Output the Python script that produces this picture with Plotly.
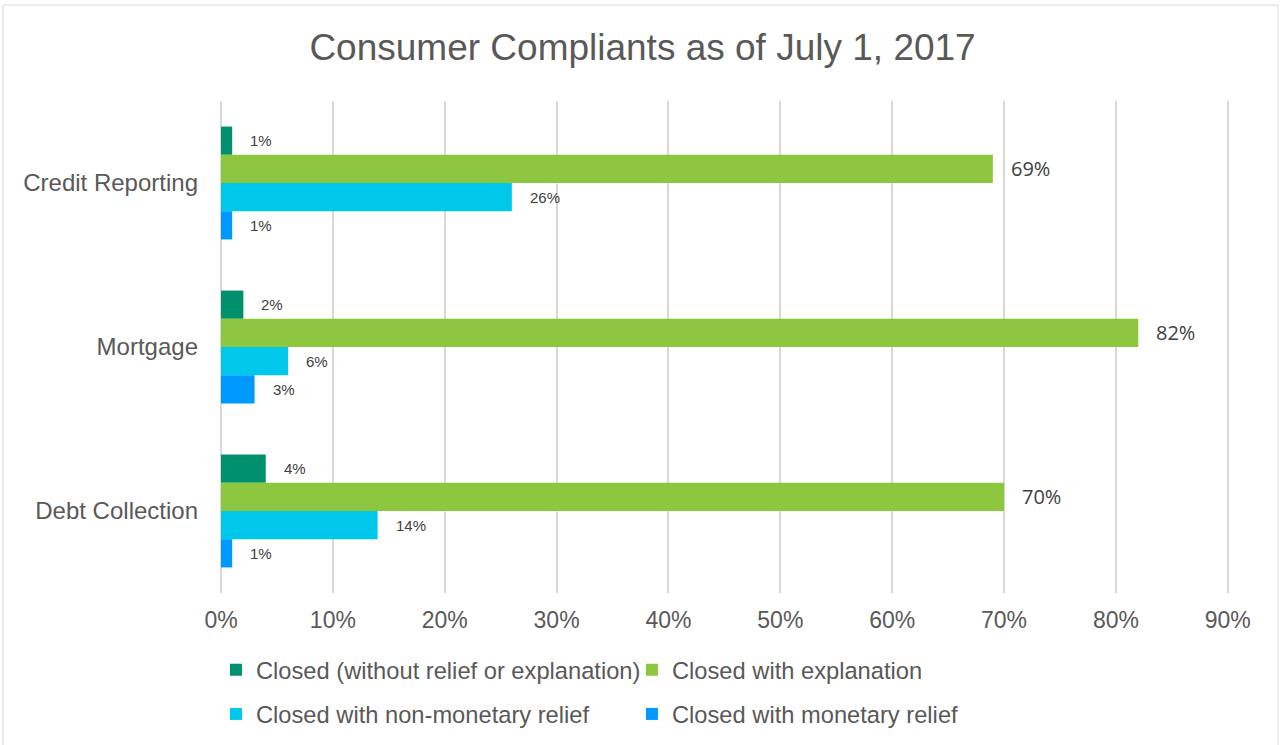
import plotly.graph_objects as go

categories = ["Credit Reporting", "Mortgage", "Debt Collection"]
series_names = [
    "Closed (without relief or explanation)",
    "Closed with explanation",
    "Closed with non-monetary relief",
    "Closed with monetary relief",
]
closed_without = [0.01, 0.02, 0.04]
closed_explanation = [0.69, 0.82, 0.70]
closed_nonmonetary = [0.26, 0.06, 0.14]
closed_monetary = [0.01, 0.03, 0.01]
series_values = [closed_without, closed_explanation, closed_nonmonetary, closed_monetary]
x_tick_vals = [0, 0.1, 0.2, 0.3, 0.4, 0.5, 0.6, 0.7, 0.8, 0.9]
x_tick_text = ["0%", "10%", "20%", "30%", "40%", "50%", "60%", "70%", "80%", "90%"]

colors = ["#00906E", "#8DC63F", "#00C8EA", "#0099FF"]
legends = ["legend", "legend", "legend2", "legend2"]

fig = go.Figure()
for name, vals, col, lg in zip(series_names, series_values, colors, legends):
    fig.add_trace(go.Bar(
        y=categories, x=vals, name=name, orientation="h",
        marker=dict(color=col, line=dict(width=0)),
        legend=lg, hoverinfo="x+y",
    ))

# data labels
bar_px = 28.2
for i, vals in enumerate(series_values):
    big = (i == 1)
    for cat, v in zip(categories, vals):
        fig.add_annotation(
            x=v, y=cat, text=f"{round(v*100)}%", showarrow=False,
            xanchor="left", yanchor="middle", xshift=16,
            yshift=(1.5 - i) * bar_px,
            font=dict(family="Open Sans" if big else "Liberation Sans, Arial",
                      size=20 if big else 15, color="#404040"),
        )

# chart border
fig.add_shape(type="rect", xref="paper", yref="paper",
              x0=-0.2161, x1=1.0476, y0=-0.33, y1=1.195,
              line=dict(color="#d9d9d9", width=1), fillcolor="rgba(0,0,0,0)", layer="below")

fig.update_layout(
    width=1281, height=745,
    margin=dict(l=221, r=51, t=101, b=152, pad=0, autoexpand=False),
    paper_bgcolor="white", plot_bgcolor="white",
    barmode="group", bargap=0.312, bargroupgap=0,
    font=dict(family="Liberation Sans, Arial", color="#595959", size=23),
    title=dict(text="Consumer Compliants as of July 1, 2017",
               x=0.5016, xref="container", xanchor="center",
               y=1 - 47 / 745, yref="container", yanchor="middle",
               font=dict(size=37, color="#595959", family="Liberation Sans, Arial")),
    xaxis=dict(range=[0, 0.902], tickvals=x_tick_vals, ticktext=x_tick_text,
               showgrid=True, gridcolor="#d9d9d9", gridwidth=1.5,
               zeroline=True, zerolinecolor="#d9d9d9", zerolinewidth=1.5,
               showline=False, ticks="", ticklabelstandoff=11,
               tickfont=dict(size=23, color="#595959"), fixedrange=True),
    yaxis=dict(autorange="reversed", categoryorder="array", categoryarray=categories,
               showgrid=False, zeroline=False, showline=False, ticks="",
               ticklabelstandoff=22,
               tickfont=dict(size=24, color="#595959"), fixedrange=True),
    legend=dict(orientation="h", x=-0.005, xanchor="left", y=-0.156, yanchor="middle",
                entrywidth=371, entrywidthmode="pixels",
                font=dict(size=23.7, color="#595959"), bgcolor="rgba(0,0,0,0)",
                traceorder="normal"),
    legend2=dict(orientation="h", x=-0.005, xanchor="left", y=-0.246, yanchor="middle",
                 entrywidth=371, entrywidthmode="pixels",
                 font=dict(size=23.7, color="#595959"), bgcolor="rgba(0,0,0,0)",
                 traceorder="normal"),
    showlegend=True,
)

fig.write_html("out.html")
